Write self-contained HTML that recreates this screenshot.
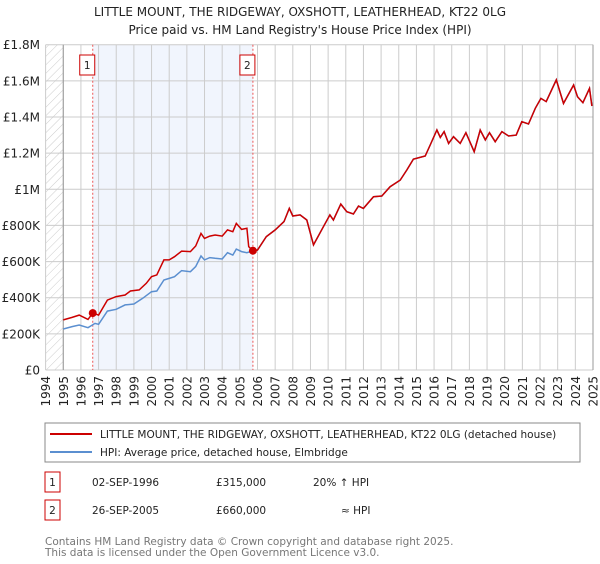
<!DOCTYPE html>
<html><head><meta charset="utf-8"><style>
body{margin:0;background:#fff;font-family:"DejaVu Sans","Liberation Sans",sans-serif;}
svg text{font-family:"DejaVu Sans","Liberation Sans",sans-serif;}
</style></head><body>
<svg id="c" width="600" height="560" xmlns="http://www.w3.org/2000/svg">
<defs><pattern id="hatch" width="6" height="6" patternUnits="userSpaceOnUse" patternTransform="rotate(45)"><line x1="0" y1="0" x2="0" y2="6" stroke="#ccc" stroke-width="1"/></pattern></defs>
<text x="300" y="16" text-anchor="middle" font-size="12" fill="#222">LITTLE MOUNT, THE RIDGEWAY, OXSHOTT, LEATHERHEAD, KT22 0LG</text>
<text x="300" y="34" text-anchor="middle" font-size="12" fill="#222">Price paid vs. HM Land Registry's House Price Index (HPI)</text>
<g id="plot"></g>
<g>
<rect x="45" y="423" width="535" height="39" fill="#fff" stroke="#888"/>
<line x1="50" y1="434" x2="92" y2="434" stroke="#cc0000" stroke-width="2"/>
<text x="100" y="438" font-size="10.5" fill="#222">LITTLE MOUNT, THE RIDGEWAY, OXSHOTT, LEATHERHEAD, KT22 0LG (detached house)</text>
<line x1="50" y1="452" x2="92" y2="452" stroke="#5b8fd0" stroke-width="2"/>
<text x="100" y="456" font-size="10.5" fill="#222">HPI: Average price, detached house, Elmbridge</text>
</g>
<g font-size="10.5" fill="#222">
<rect x="45" y="472" width="15" height="20" fill="#fff" stroke="#cc0000"/><text x="52.5" y="486" text-anchor="middle">1</text>
<text x="92" y="486">02-SEP-1996</text><text x="216" y="486">£315,000</text><text x="313" y="486">20% ↑ HPI</text>
<rect x="45" y="500" width="15" height="20" fill="#fff" stroke="#cc0000"/><text x="52.5" y="514" text-anchor="middle">2</text>
<text x="92" y="514">26-SEP-2005</text><text x="216" y="514">£660,000</text><text x="341" y="514">≈ HPI</text>
</g>
<text x="45" y="545" font-size="10.5" fill="#777">Contains HM Land Registry data © Crown copyright and database right 2025.</text>
<text x="45" y="556" font-size="10.5" fill="#777">This data is licensed under the Open Government Licence v3.0.</text>
</svg>
<script>
const hpiYears=[1995.0,1995.5,1995.9,1996.4,1996.8,1997.0,1997.5,1998.0,1998.5,1999.0,1999.5,2000.0,2000.3,2000.7,2001.0,2001.3,2001.7,2002.2,2002.5,2002.8,2003.0,2003.3,2003.6,2004.0,2004.3,2004.6,2004.8,2005.1,2005.4,2005.74];
const hpiValues=[227,240,249,234,258,253,326,336,360,365,397,433,437,498,507,516,550,544,572,631,609,622,618,614,649,636,669,655,649,660];
const laterYears=[2006.0,2006.5,2007.0,2007.5,2007.8,2008.0,2008.41,2008.79,2009.17,2009.73,2010.1,2010.3,2010.72,2011.06,2011.43,2011.72,2012.0,2012.57,2013.04,2013.51,2014.08,2014.46,2014.83,2015.5,2015.78,2016.16,2016.35,2016.57,2016.82,2017.1,2017.48,2017.8,2018.27,2018.61,2018.9,2019.14,2019.46,2019.84,2020.22,2020.65,2020.97,2021.35,2021.73,2022.05,2022.35,2022.92,2023.33,2023.9,2024.12,2024.43,2024.8,2024.94];
const laterValues=[664,738,775,821,894,852,858,830,692,793,858,830,918,876,863,907,894,959,963,1014,1051,1107,1167,1184,1245,1328,1287,1319,1254,1291,1254,1313,1208,1328,1273,1313,1263,1319,1295,1300,1374,1361,1448,1503,1485,1605,1475,1577,1512,1479,1558,1461];
const propYears=[1995.0,1995.5,1995.9,1996.4,1996.67,1997.0,1997.5,1998.0,1998.5,1998.8,1999.3,1999.7,2000.0,2000.3,2000.7,2001.0,2001.3,2001.7,2002.2,2002.5,2002.8,2003.0,2003.3,2003.6,2004.0,2004.3,2004.6,2004.8,2005.1,2005.4,2005.5,2005.74];
const propValues=[277,291,304,280,315,304,387,406,415,437,443,480,516,526,609,609,627,658,655,686,756,728,741,747,741,775,765,811,778,784,682,660];
const salesYears=[1996.67,2005.74];
const salesValues=[315,660];
const salesLabels=["1","2"];
const yTicks=[0,200,400,600,800,1000,1200,1400,1600,1800];
const yTickLabels=["£0","£200K","£400K","£600K","£800K","£1M","£1.2M","£1.4M","£1.6M","£1.8M"];
const xTicks=[];for(let y=1994;y<=2025;y++)xTicks.push(y);

const X0=45.6,X1=593,Y0=370,Y1=44.7;
const xs=y=>X0+(y-1994)/(2025-1994)*(X1-X0);
const ys=v=>Y0-v/1800*(Y0-Y1);
const NS="http://www.w3.org/2000/svg";
const g=document.getElementById('plot');
function mk(t,a,p){const e=document.createElementNS(NS,t);for(const k in a)e.setAttribute(k,a[k]);(p||g).appendChild(e);return e;}
let e;
e=mk('rect',{x:X0,y:Y1,width:X1-X0,height:Y0-Y1,fill:'#fff'});


e=mk('rect',{x:X0,y:Y1,width:xs(1995)-X0,height:Y0-Y1,fill:'url(#hatch)'});


e=mk('rect',{x:xs(salesYears[0]),y:Y1,width:xs(salesYears[1])-xs(salesYears[0]),height:Y0-Y1,fill:'#eef3fc',opacity:0.8});


xTicks.forEach(t=>{
 e=mk('line',{x1:xs(t),x2:xs(t),y1:Y1,y2:Y0,stroke:'#ccc','stroke-width':1});
 
 
 e=mk('text',{x:0,y:0,'font-size':12,fill:'#222','text-anchor':'end',transform:`translate(${xs(t)+4.5},${Y0+6}) rotate(-90)`});
 e.textContent=t;
 
 
});
yTicks.forEach((t,i)=>{
 e=mk('line',{x1:X0,x2:X1,y1:ys(t),y2:ys(t),stroke:'#ccc','stroke-width':1});
 
 
 e=mk('text',{x:40,y:ys(t)+4.5,'font-size':12,fill:'#222','text-anchor':'end'});
 e.textContent=yTickLabels[i];
 
 
});
e=mk('line',{x1:xs(1995),x2:xs(1995),y1:Y1,y2:Y0,stroke:'#999'});


e=mk('line',{x1:X1,x2:X1,y1:Y1,y2:Y0,stroke:'#999'});


salesYears.forEach((s,i)=>{
 e=mk('line',{x1:xs(s),x2:xs(s),y1:Y1,y2:Y0,stroke:'#e55','stroke-width':1,'stroke-dasharray':'2,2'});
 
 
 e=mk('rect',{x:xs(s)-13,y:55,width:15,height:20,fill:'#fff',stroke:'#cc0000'});
 
 
 e=mk('text',{x:xs(s)-5.5,y:69,'font-size':10.5,fill:'#222','text-anchor':'middle'});
 e.textContent=salesLabels[i];
 
 
});
const hY=hpiYears.concat(laterYears),hV=hpiValues.concat(laterValues);
e=mk('path',{d:hY.map((y,i)=>(i?'L':'M')+xs(y).toFixed(1)+','+ys(hV[i]).toFixed(1)).join(''),fill:'none',stroke:'#5b8fd0','stroke-width':1.5});


const pY=propYears.concat(laterYears),pV=propValues.concat(laterValues);
e=mk('path',{d:pY.map((y,i)=>(i?'L':'M')+xs(y).toFixed(1)+','+ys(pV[i]).toFixed(1)).join(''),fill:'none',stroke:'#cc0000','stroke-width':1.5});


salesYears.forEach((s,i)=>{
 e=mk('circle',{cx:xs(s),cy:ys(salesValues[i]),r:4,fill:'#cc0000'});
 
 
});
</script>
</body></html>
